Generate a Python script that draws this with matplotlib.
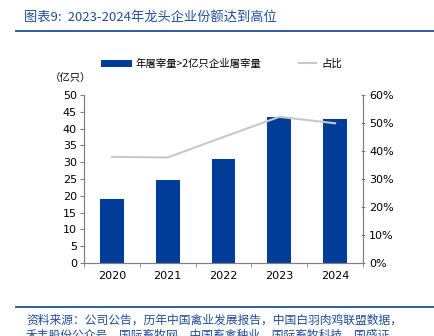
import matplotlib.pyplot as plt
import numpy as np

plt.rcParams['font.family'] = ['Noto Sans CJK SC', 'DejaVu Sans']

years = ['2020', '2021', '2022', '2023', '2024']
volume = [18.9, 24.7, 31.1, 43.4, 42.8]   # 亿只
share = [37.9, 37.7, 45.0, 52.2, 49.9]    # %

title = '图表9:  2023-2024年龙头企业份额达到高位'
source1 = '资料来源：公司公告，历年中国禽业发展报告，中国白羽肉鸡联盟数据，'
source2 = '禾丰股份公众号，国际畜牧网，中国畜禽种业，国际畜牧科技，国盛证'

W, H = 435, 336
fig = plt.figure(figsize=(W / 100, H / 100), dpi=100)
ax = fig.add_axes([84 / W, 1 - 263 / H, (363 - 84) / W, (263 - 95) / H])
ax2 = ax.twinx()

x = np.arange(len(years))
bar_col = '#003D98'
line_col = '#C8C8C8'
spine_col = '#808080'
blue_txt = '#1F4E9A'

ax.bar(x, volume, width=0.43, color=bar_col, label='年屠宰量>2亿只企业屠宰量', zorder=2)
ax2.plot(x, share, color=line_col, lw=1.5, label='占比', zorder=3)

ax.set_xlim(-0.5, len(years) - 0.5)
ax.set_ylim(0, 50)
ax.set_yticks(range(0, 51, 5))
ax2.set_ylim(0, 60)
ax2.set_yticks(range(0, 61, 10))
ax2.set_yticklabels([f'{v}%' for v in range(0, 61, 10)])

ax.set_xticks(x)
ax.set_xticklabels(years)
ax.set_xticks(np.arange(-0.5, len(years)), minor=True)
ax.tick_params(axis='x', which='major', length=0, pad=6)
ax.tick_params(axis='x', which='minor', length=3, color=spine_col, direction='out')
ax.tick_params(axis='y', length=3, color=spine_col, pad=2)
ax2.tick_params(axis='y', length=3, color=spine_col, direction='inout', pad=3)
for a in (ax, ax2):
    a.tick_params(labelsize=8, labelcolor='black')
    for s in a.spines.values():
        s.set_color(spine_col)
        s.set_linewidth(0.8)
    a.spines['top'].set_visible(False)
for lab in ax.get_xticklabels() + ax.get_yticklabels() + ax2.get_yticklabels():
    lab.set_family('DejaVu Sans')

# legends (two, so the handles can have different lengths)
h1, l1 = ax.get_legend_handles_labels()
h2, l2 = ax2.get_legend_handles_labels()
fig.legend(h1, l1, loc='center left', bbox_to_anchor=(92 / W, 1 - 64 / H),
           frameon=False, fontsize=7.5, handlelength=2.9, handleheight=0.6,
           handletextpad=0.4)
fig.legend(h2, l2, loc='center left', bbox_to_anchor=(290 / W, 1 - 64 / H),
           frameon=False, fontsize=7.5, handlelength=1.6, handletextpad=0.5)

fig.text(50 / W, 1 - 78 / H, '（亿只）', fontsize=7.5, va='center', ha='left')

# header / footer
fig.text(24 / W, 1 - 17 / H, title, fontsize=9.5, color=blue_txt, style='italic',
         va='center', ha='left')
fig.add_artist(plt.Line2D([16 / W, 1], [1 - 31 / H] * 2, color=blue_txt, lw=1.3))
fig.add_artist(plt.Line2D([16 / W, 1], [1 - 307 / H] * 2, color=blue_txt, lw=1.3))
fig.text(26 / W, 1 - 320 / H, source1, fontsize=8.5, color=blue_txt, style='italic',
         va='center', ha='left')
fig.text(26 / W, 1 - 335 / H, source2, fontsize=8.5, color=blue_txt, style='italic',
         va='center', ha='left')

fig.savefig('out.png', dpi=100)
